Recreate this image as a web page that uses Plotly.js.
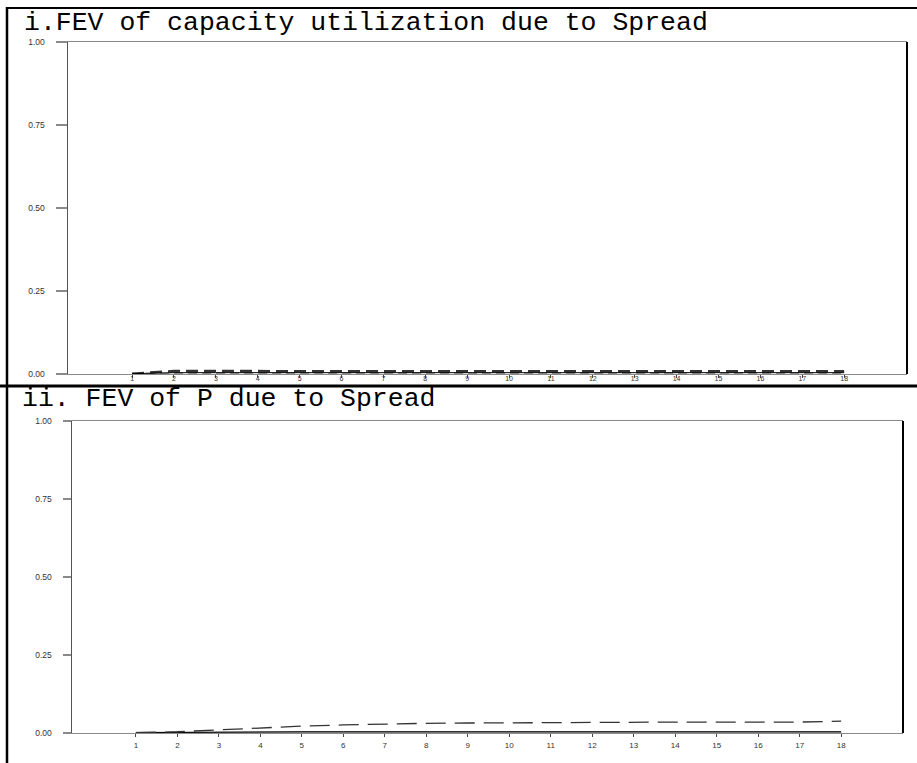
<!DOCTYPE html>
<html>
<head>
<meta charset="utf-8">
<script src="https://cdn.plot.ly/plotly-3.0.1.min.js"></script>
<style>html,body{margin:0;padding:0;background:#fff;}#chart{width:917px;height:763px;}</style>
</head>
<body>
<div id="chart"></div>
<script>
// Horizons
var horizons = [1,2,3,4,5,6,7,8,9,10,11,12,13,14,15,16,17,18];
var yTickVals = [0, 0.25, 0.5, 0.75, 1.0];
var yTickText = ['0.00','0.25','0.50','0.75','1.00'];

// Panel i: FEV of capacity utilization due to Spread
var capEstimate = [0.001,0.004,0.004,0.004,0.004,0.004,0.004,0.004,0.004,0.004,0.004,0.004,0.004,0.004,0.004,0.004,0.004,0.004];
var capUpper    = [0.001,0.009,0.009,0.008,0.008,0.008,0.008,0.008,0.008,0.008,0.008,0.008,0.008,0.008,0.008,0.008,0.008,0.008];
var capLower    = [0.000,0.001,0.001,0.001,0.001,0.001,0.001,0.001,0.001,0.001,0.001,0.001,0.001,0.001,0.001,0.001,0.001,0.001];

// Panel ii: FEV of P due to Spread
var pEstimate = [0.001,0.002,0.004,0.004,0.004,0.004,0.004,0.004,0.004,0.004,0.004,0.004,0.004,0.004,0.004,0.004,0.004,0.004];
var pUpper    = [0.001,0.004,0.010,0.017,0.022,0.026,0.029,0.031,0.032,0.033,0.033,0.034,0.034,0.035,0.035,0.035,0.035,0.038];
var pLower    = [0.000,0.001,0.001,0.001,0.001,0.001,0.001,0.001,0.001,0.001,0.001,0.001,0.001,0.001,0.001,0.001,0.001,0.001];

var titles = ['i.FEV of capacity utilization due to Spread', 'ii. FEV of P due to Spread'];

var W = 917, H = 763;
function px(x){return x/W;}
function py(y){return 1 - y/H;}

function band(x, y, xa, ya, color, width, dash){
  return {x:x, y:y, xaxis:xa, yaxis:ya, type:'scatter', mode:'lines',
          line:{color:color, width:width, dash:dash}, hoverinfo:'skip', showlegend:false};
}

var traces = [
  band(horizons, capLower, 'x', 'y', '#9a9a9a', 2.5, '9px,5px'),
  band(horizons, capUpper, 'x', 'y', '#333333', 2.5, '12px,6px'),
  band(horizons, capEstimate, 'x', 'y', '#000000', 1, 'solid'),
  band(horizons, pLower, 'x2', 'y2', '#9a9a9a', 2.5, 'solid'),
  band(horizons, pEstimate, 'x2', 'y2', '#000000', 1, 'solid'),
  band(horizons, pUpper, 'x2', 'y2', '#333333', 1.3, '20px,9px')
];

function xax(domain, range, anchor, standoff, fsize){
  return {domain:domain, range:range, anchor:anchor, tickvals:horizons, ticktext:horizons.map(String),
    ticks:'outside', ticklen:3, tickcolor:'#444', tickwidth:1,
    ticklabelstandoff:standoff,
    tickfont:{family:'Liberation Sans, Arial', size:fsize, color:'#333'},
    showline:true, mirror:true, linecolor:'#8a8a8a', linewidth:1.3,
    showgrid:false, zeroline:false, fixedrange:true};
}
function yax(domain, anchor, tlen){
  return {domain:domain, range:[0,1], anchor:anchor, tickvals:yTickVals, ticktext:yTickText,
    ticks:'outside', ticklen:tlen, tickcolor:'#8a8a8a', tickwidth:1.3,
    ticklabelstandoff:9,
    tickfont:{family:'Liberation Sans, Arial', size:8.5, color:'#333'},
    showline:true, linecolor:'#555', linewidth:1.5,
    showgrid:false, zeroline:false, fixedrange:true};
}

var layout = {
  width:W, height:H,
  margin:{l:0, r:0, t:0, b:0},
  paper_bgcolor:'#fff', plot_bgcolor:'#fff',
  showlegend:false,
  xaxis: xax([px(68), px(907)], [-0.53, 19.5], 'y', -6, 7),
  yaxis: yax([py(374), py(42)], 'x', 11),
  xaxis2: xax([px(72), px(903)], [-0.54, 19.49], 'y2', 1, 8),
  yaxis2: yax([py(733), py(421)], 'x2', 8),
  shapes:[
    {type:'line', xref:'paper', yref:'paper', x0:px(7), x1:px(7), y0:py(7), y1:0, line:{color:'#000', width:2.5}},
    {type:'line', xref:'paper', yref:'paper', x0:px(6), x1:1, y0:py(8), y1:py(8), line:{color:'#000', width:2}},
    {type:'line', xref:'paper', yref:'paper', x0:0, x1:1, y0:py(386), y1:py(386), line:{color:'#000', width:3}},
    {type:'line', xref:'paper', yref:'paper', x0:px(907), x1:px(907), y0:py(42), y1:py(374), line:{color:'#000', width:2}},
    {type:'line', xref:'paper', yref:'paper', x0:px(903), x1:px(903), y0:py(421), y1:py(733), line:{color:'#000', width:2}}
  ],
  annotations:[
    {text:titles[0], xref:'paper', yref:'paper', x:px(22), y:py(23), xanchor:'left', yanchor:'middle',
     showarrow:false, font:{family:'Liberation Mono, Courier New, monospace', size:26.5, color:'#000'}},
    {text:titles[1], xref:'paper', yref:'paper', x:px(20), y:py(399), xanchor:'left', yanchor:'middle',
     showarrow:false, font:{family:'Liberation Mono, Courier New, monospace', size:26.5, color:'#000'}}
  ]
};

Plotly.newPlot('chart', traces, layout, {staticPlot:true, displayModeBar:false});
</script>
</body>
</html>
